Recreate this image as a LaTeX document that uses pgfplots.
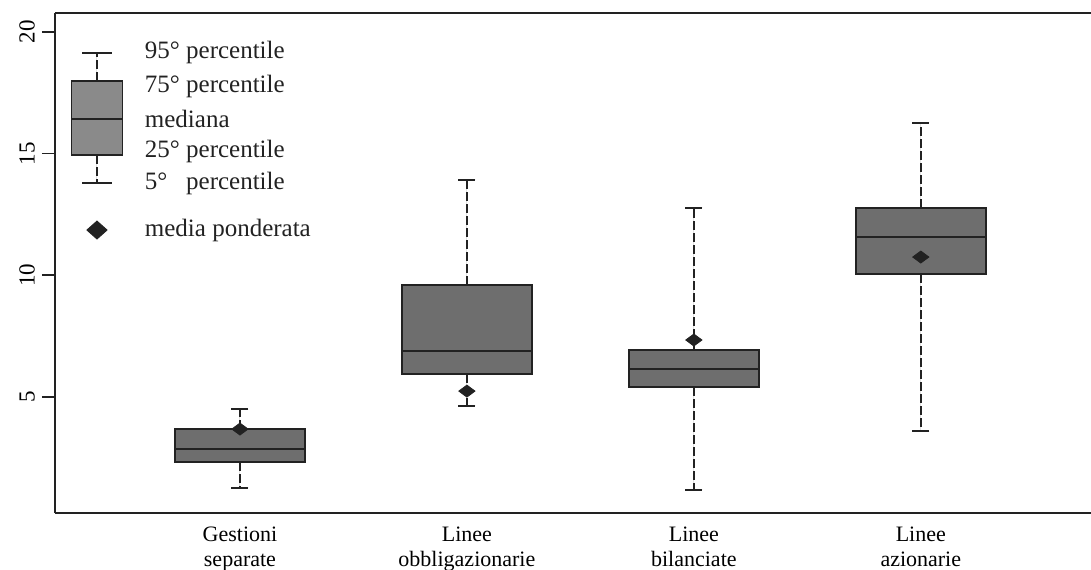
\documentclass[border=0pt]{standalone}
\usepackage{pgfplots}
\pgfplotsset{compat=1.18}
\usepgfplotslibrary{statistics}
\usepackage{fontspec}
\setmainfont{Liberation Serif}

\definecolor{boxgray}{HTML}{6E6E6E}
\definecolor{leggray}{HTML}{8A8A8A}
\definecolor{ink}{HTML}{222222}

% dashed whisker, solid cap
\pgfplotsset{
  boxplot/draw/lower whisker/.code={%
    \draw[ink, line width=0.9pt, dash pattern=on 4.5pt off 1.5pt]
      (boxplot cs:\pgfplotsboxplotvalue{lower quartile}) -- (boxplot cs:\pgfplotsboxplotvalue{lower whisker});
    \draw[ink, line width=0.9pt]
      (boxplot whisker cs:\pgfplotsboxplotvalue{lower whisker},0) -- (boxplot whisker cs:\pgfplotsboxplotvalue{lower whisker},1);
  },
  boxplot/draw/upper whisker/.code={%
    \draw[ink, line width=0.9pt, dash pattern=on 4.5pt off 1.5pt]
      (boxplot cs:\pgfplotsboxplotvalue{upper quartile}) -- (boxplot cs:\pgfplotsboxplotvalue{upper whisker});
    \draw[ink, line width=0.9pt]
      (boxplot whisker cs:\pgfplotsboxplotvalue{upper whisker},0) -- (boxplot whisker cs:\pgfplotsboxplotvalue{upper whisker},1);
  },
}

\begin{document}
\begin{tikzpicture}
\begin{axis}[
  scale only axis, width=518pt, height=250pt,
  xmin=0.185, xmax=4.75, ymin=0.23, ymax=20.78,
  axis x line*=box, axis y line*=left,
  axis line style={-, line width=0.8pt, color=ink},
  xtick={1,2,3,4}, xtick pos=bottom, ytick pos=left,
  xticklabels={{Gestioni\\separate},{Linee\\obbligazionarie},{Linee\\bilanciate},{Linee\\azionarie}},
  x tick label style={align=center, font=\fontsize{11}{12.5}\selectfont, yshift=3pt},
  major x tick style={draw=none},
  ytick={5,10,15,20},
  tick align=outside, major tick length=6.5pt,
  major y tick style={ink, line width=0.8pt},
  y tick label style={rotate=90, anchor=south, font=\fontsize{11.5}{12}\selectfont},
  /pgf/number format/assume math mode=true,
  clip=false,
  boxplot/draw direction=y,
  boxplot/every median/.style={line width=1.4pt, ink},
  boxplot/every box/.style={line width=0.9pt},
]
\coordinate (sw) at (rel axis cs:0,0);
\coordinate (ne) at (rel axis cs:1,1);

% Gestioni separate
\addplot[fill=boxgray, draw=ink, boxplot prepared={draw position=1, box extend=0.573, whisker extend=0.075,
  lower whisker=1.26, lower quartile=2.33, median=2.86, upper quartile=3.68, upper whisker=4.5}] coordinates {};
% Linee obbligazionarie
\addplot[fill=boxgray, draw=ink, boxplot prepared={draw position=2, box extend=0.573, whisker extend=0.075,
  lower whisker=4.63, lower quartile=5.94, median=6.89, upper quartile=9.6, upper whisker=13.92}] coordinates {};
% Linee bilanciate
\addplot[fill=boxgray, draw=ink, boxplot prepared={draw position=3, box extend=0.573, whisker extend=0.075,
  lower whisker=1.18, lower quartile=5.41, median=6.15, upper quartile=6.93, upper whisker=12.77}] coordinates {};
% Linee azionarie
\addplot[fill=boxgray, draw=ink, boxplot prepared={draw position=4, box extend=0.573, whisker extend=0.075,
  lower whisker=3.6, lower quartile=10.05, median=11.57, upper quartile=12.77, upper whisker=16.26}] coordinates {};

% legend key box
\addplot[fill=leggray, draw=ink, boxplot prepared={draw position=0.37, box extend=0.225, whisker extend=0.13,
  lower whisker=13.79, lower quartile=14.94, median=16.42, upper quartile=17.99, upper whisker=19.14}] coordinates {};

% media ponderata
\addplot[only marks, mark=diamond*, mark size=3pt, mark options={fill=ink, draw=ink, xscale=1.8}]
  coordinates {(1,3.68) (2,5.24) (3,7.34) (4,10.75)};
\addplot[only marks, mark=diamond*, mark size=4.5pt, mark options={fill=ink, draw=ink, xscale=1.5}]
  coordinates {(0.37,11.86)};

\begin{scope}[every node/.style={anchor=west, font=\fontsize{12.5}{14}\selectfont, text=ink}]
\node at (axis cs:0.55,19.14) {95° percentile};
\node at (axis cs:0.55,17.74) {75° percentile};
\node at (axis cs:0.55,16.42) {mediana};
\node at (axis cs:0.55,15.10) {25° percentile};
\node at (axis cs:0.55,13.79) {5°\ \ \ percentile};
\node at (axis cs:0.55,11.86) {media ponderata};
\end{scope}
\end{axis}
\pgfresetboundingbox
\path ([xshift=-27.5pt,yshift=-28pt]sw) rectangle ([yshift=6.5pt]ne);
\end{tikzpicture}
\end{document}
